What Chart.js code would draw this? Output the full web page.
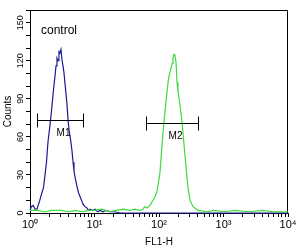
<!DOCTYPE html>
<html>
<head>
<meta charset="utf-8">
<script src="https://cdn.jsdelivr.net/npm/chart.js@4.4.0/dist/chart.umd.min.js"></script>
<style>
  html, body { margin: 0; padding: 0; background: #fff; }
  #wrap { width: 298px; height: 250px; }
</style>
</head>
<body>
<div id="wrap"><canvas id="histChart" width="298" height="250"></canvas></div>
<script>
// control (blue) histogram: FL1-H value / counts
const controlFl = [1.0, 1.05, 1.12, 1.2, 1.28, 1.4, 1.53, 1.62, 1.71, 1.8, 1.9, 2.05, 2.19, 2.3, 2.44, 2.53, 2.62, 2.72, 2.81, 2.9, 3.02, 3.13, 3.25, 3.37, 3.55, 3.74, 3.88, 4.02, 4.25, 4.48, 4.65, 4.81, 5.05, 5.35, 5.65, 5.96, 6.3, 6.64, 7.1, 7.62, 8.1, 8.52, 9.3, 10.2, 11.2, 12.2, 13.5, 15, 17.4, 20, 25, 40, 100, 400, 10000];
const controlCounts = [2, 5, 6, 3, 3, 9, 16, 20, 30, 40, 56, 70, 84, 96, 108, 116, 122, 120, 127, 126, 129, 121, 116, 110, 98, 86, 74, 66, 58, 49, 40, 33, 27, 21, 16, 13, 10, 7, 5, 4, 2, 3, 2, 3, 1, 2, 1, 2, 1, 1, 0, 0, 0, 0, 0];

// stained sample (green) histogram
const sampleFl = [1, 1.3, 1.7, 2.2, 3, 4, 5, 6.5, 8, 10, 13, 17, 22, 28, 35, 42, 50.7, 56, 60, 65.2, 72.5, 80.7, 87, 93.1, 98, 103.7, 111.4, 119.6, 128.5, 138, 146, 153.5, 160, 164.8, 171, 177, 183.6, 190.2, 197, 204.3, 215, 227.4, 244.2, 262.3, 281.7, 302.6, 336.8, 402.6, 554, 700, 1000, 1500, 2500, 4000, 6000, 10000];
const sampleCounts = [2, 2, 1, 2, 2, 1, 2, 1, 2, 2, 3, 1, 2, 3, 2, 3, 2, 3, 5, 4, 6, 10, 13, 17, 24, 32, 54, 72, 88, 103, 110, 114, 118, 122, 125, 124, 119, 103, 96, 91, 82, 72, 54, 36, 20, 10, 5, 2, 1, 2, 1, 2, 1, 2, 1, 1];

const xTickValues = [1, 10, 100, 1000, 10000];
const xTickLabels = ["10\u2070", "10\u00b9", "10\u00b2", "10\u00b3", "10\u2074"];
const yTickLabels = [0, 30, 60, 90, 120, 150];

// gates
const markerNames = ["M1", "M2"];
const markerLow = [1.28, 62.9];
const markerHigh = [6.63, 402];
const markerLevel = [73, 71];

const panelLabel = "control";

const toPoints = (xs, ys) => xs.map((x, i) => ({ x: x, y: ys[i] }));

const framePlugin = {
  id: "frame",
  beforeDatasetsDraw(chart) {
    const { ctx, chartArea: a } = chart;
    ctx.save();
    ctx.strokeStyle = "#000";
    ctx.lineWidth = 1;
    ctx.beginPath();
    ctx.moveTo(Math.round(a.left) + 0.5, Math.round(a.top) + 0.5);
    ctx.lineTo(Math.round(a.right) - 0.5, Math.round(a.top) + 0.5);
    ctx.lineTo(Math.round(a.right) - 0.5, Math.round(a.bottom));
    ctx.stroke();
    ctx.fillStyle = "#000";
    ctx.font = "12px 'Liberation Sans', Arial, sans-serif";
    ctx.textBaseline = "middle";
    ctx.fillText(panelLabel, a.left + 11, a.top + 21);
    ctx.restore();
  },
  afterDatasetsDraw(chart) {
    const { ctx } = chart;
    const xs = chart.scales.x, ys = chart.scales.y;
    ctx.save();
    ctx.strokeStyle = "#000";
    ctx.fillStyle = "#000";
    ctx.lineWidth = 1;
    ctx.font = "10px 'Liberation Sans', Arial, sans-serif";
    ctx.textAlign = "center";
    ctx.textBaseline = "middle";
    markerNames.forEach((name, i) => {
      const x1 = Math.round(xs.getPixelForValue(markerLow[i])) + 0.5;
      const x2 = Math.round(xs.getPixelForValue(markerHigh[i])) + 0.5;
      const y = Math.round(ys.getPixelForValue(markerLevel[i])) + 0.5;
      ctx.beginPath();
      ctx.moveTo(x1, y); ctx.lineTo(x2, y);
      ctx.moveTo(x1, y - 7); ctx.lineTo(x1, y + 7);
      ctx.moveTo(x2, y - 7); ctx.lineTo(x2, y + 7);
      ctx.stroke();
      ctx.fillText(name, (x1 + x2) / 2 + 3, y + 13);
    });
    ctx.restore();
  }
};

const ctx = document.getElementById("histChart");
new Chart(ctx, {
  type: "line",
  data: {
    datasets: [
      {
        label: "sample",
        data: toPoints(sampleFl, sampleCounts),
        borderColor: "#3cdc3c",
        borderWidth: 1.2,
        pointRadius: 0,
        tension: 0,
        clip: false,
      },
      {
        label: "control",
        data: toPoints(controlFl, controlCounts),
        borderColor: "#1a1a96",
        borderWidth: 1.2,
        pointRadius: 0,
        tension: 0,
        clip: false,
      },
    ],
  },
  options: {
    responsive: false,
    animation: false,
    layout: {
      padding: { top: 10, right: 10, left: 0, bottom: 0 },
    },
    plugins: {
      legend: { display: false },
      tooltip: { enabled: false },
    },
    scales: {
      x: {
        type: "logarithmic",
        min: 1,
        max: 10000,
        afterBuildTicks: (scale) => {
          const t = [];
          for (let e = 0; e < 4; e++) {
            for (let m = 1; m < 10; m++) t.push({ value: m * Math.pow(10, e) });
          }
          t.push({ value: 10000 });
          scale.ticks = t;
        },
        afterFit: (scale) => { scale.height = 37; },
        ticks: {
          autoSkip: false,
          maxRotation: 0,
          padding: 1,
          color: "#000",
          font: { family: "'Liberation Sans', Arial, sans-serif", size: 11 },
          callback: (v) => {
            const i = xTickValues.indexOf(v);
            return i >= 0 ? xTickLabels[i] : "";
          },
        },
        grid: { drawOnChartArea: false, tickLength: 4, tickColor: "#000" },
        border: { color: "#000", width: 1 },
        title: {
          display: true,
          text: "FL1-H",
          color: "#000",
          font: { family: "'Liberation Sans', Arial, sans-serif", size: 10 },
          padding: { top: 0, bottom: 2 },
        },
      },
      y: {
        type: "linear",
        min: 0,
        max: 160,
        afterFit: (scale) => { scale.width = 30; },
        ticks: {
          stepSize: 10,
          autoSkip: false,
          minRotation: 90,
          maxRotation: 90,
          crossAlign: "center",
          padding: -2,
          color: "#000",
          font: { family: "'Liberation Sans', Arial, sans-serif", size: 9 },
          callback: (v) => (yTickLabels.includes(v) ? String(v) : ""),
        },
        grid: { drawOnChartArea: false, tickLength: 4, tickColor: "#000" },
        border: { color: "#000", width: 1 },
        title: {
          display: true,
          text: "Counts",
          color: "#000",
          font: { family: "'Liberation Sans', Arial, sans-serif", size: 10 },
          padding: { top: 2, bottom: 0 },
        },
      },
    },
  },
  plugins: [framePlugin],
});
</script>
</body>
</html>
